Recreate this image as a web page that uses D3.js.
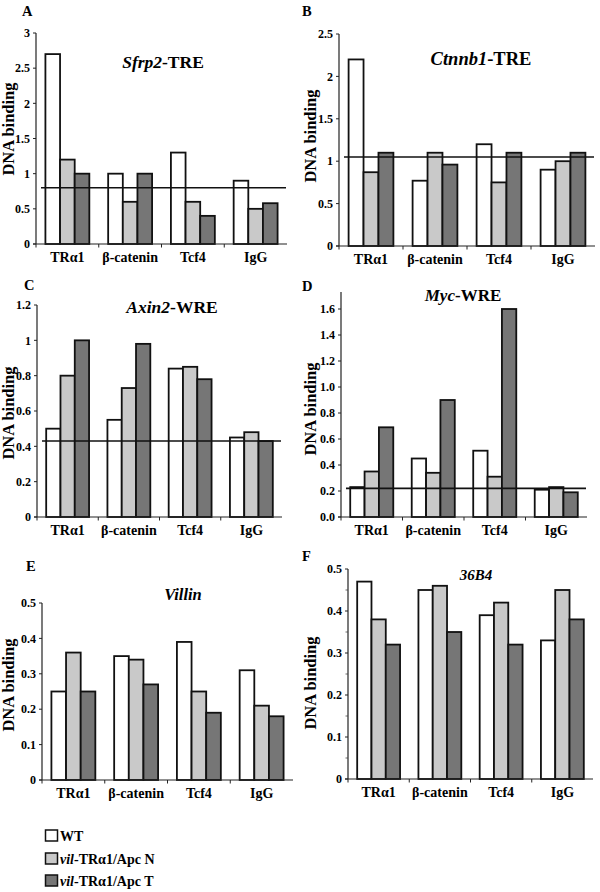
<!DOCTYPE html>
<html>
<head>
<meta charset="utf-8">
<script src="https://cdn.jsdelivr.net/npm/d3@7"></script>
<style>
  body { margin: 0; background: #fff; }
  svg { display: block; font-family: "Liberation Serif", "Times New Roman", serif; font-weight: bold; }
</style>
</head>
<body>
<svg id="chart" width="600" height="892"></svg>
<script>
// ---------- DATA ----------
const categories = ["TRα1", "β-catenin", "Tcf4", "IgG"];
const seriesNames = ["WT", "vil-TRα1/Apc N", "vil-TRα1/Apc T"];
const panelLetters = ["A", "B", "C", "D", "E", "F"];
const titleItalic = ["Sfrp2", "Ctnnb1", "Axin2", "Myc", "Villin", "36B4"];
const titleSuffix = ["-TRE", "-TRE", "-WRE", "-WRE", "", ""];

// rows: WT, vil-TRα1/Apc N, vil-TRα1/Apc T ; columns follow categories
const sfrp2 = [[2.7, 1.0, 1.3, 0.9], [1.2, 0.6, 0.6, 0.5], [1.0, 1.0, 0.4, 0.58]];
const ctnnb1 = [[2.2, 0.77, 1.2, 0.9], [0.87, 1.1, 0.75, 1.0], [1.1, 0.96, 1.1, 1.1]];
const axin2 = [[0.5, 0.55, 0.84, 0.45], [0.8, 0.73, 0.85, 0.48], [1.0, 0.98, 0.78, 0.43]];
const myc = [[0.23, 0.45, 0.51, 0.21], [0.35, 0.34, 0.31, 0.23], [0.69, 0.9, 1.6, 0.19]];
const villin = [[0.25, 0.35, 0.39, 0.31], [0.36, 0.34, 0.25, 0.21], [0.25, 0.27, 0.19, 0.18]];
const b36b4 = [[0.47, 0.45, 0.39, 0.33], [0.38, 0.46, 0.42, 0.45], [0.32, 0.35, 0.32, 0.38]];
const panelData = [sfrp2, ctnnb1, axin2, myc, villin, b36b4];

const refLines = [0.8, 1.05, 0.43, 0.22, null, null];

const ticksA = [0, 0.5, 1, 1.5, 2, 2.5, 3];
const ticksB = [0, 0.5, 1, 1.5, 2, 2.5];
const ticksC = [0, 0.2, 0.4, 0.6, 0.8, 1, 1.2];
const ticksD = [0, 0.2, 0.4, 0.6, 0.8, 1.0, 1.2, 1.4, 1.6];
const ticksE = [0, 0.1, 0.2, 0.3, 0.4, 0.5];
const ticksF = [0, 0.1, 0.2, 0.3, 0.4, 0.5];
const minorF = [0.05, 0.15, 0.25, 0.35, 0.45];
const panelTicks = [ticksA, ticksB, ticksC, ticksD, ticksE, ticksF];
const tickFormats = ["", "", "", ".1f", "", ""];

// ---------- LAYOUT ----------
const layout = [
  { left: 36, right: 287, y0: 244, yTop: 33, axisMax: 3, letter: [22, 16], title: [163, 68, 17.5], ylab: [14, 129] },
  { left: 339, right: 595, y0: 246, yTop: 34, axisMax: 2.5, letter: [302, 16], title: [481, 65, 18.5], ylab: [316, 136] },
  { left: 37, right: 282, y0: 517, yTop: 305, axisMax: 1.2, letter: [24, 290], title: [172, 313, 17.5], ylab: [14, 413] },
  { left: 341, right: 587, y0: 517, yTop: 309, axisMax: 1.73, letter: [302, 291], title: [463, 301, 17], ylab: [316, 409] },
  { left: 42, right: 293, y0: 780, yTop: 603, axisMax: 0.5, letter: [26, 571], title: [183, 600, 16.5], ylab: [14, 685] },
  { left: 348, right: 593, y0: 779, yTop: 569, axisMax: 0.5, letter: [302, 561], title: [476, 580, 15], ylab: [316, 683] }
];
const colors = ["#ffffff", "#c9c9c9", "#767676"];

const svg = d3.select("#chart");

panelData.forEach((data, pi) => {
  const L = layout[pi];
  const ticks = panelTicks[pi];
  const topTick = ticks[ticks.length - 1];
  const y = d3.scaleLinear().domain([0, topTick]).range([L.y0, L.yTop]);
  const x = d3.scaleBand().domain(categories).range([L.left, L.right]).padding(0);
  const groupW = x.bandwidth() * 0.7;
  const xs = d3.scaleBand().domain(d3.range(seriesNames.length)).range([0, groupW]).padding(0);
  const g = svg.append("g");

  // panel letter
  g.append("text").attr("x", L.letter[0]).attr("y", L.letter[1])
    .attr("font-size", 14.5).text(panelLetters[pi]);

  // title
  const t = g.append("text").attr("x", L.title[0]).attr("y", L.title[1])
    .attr("text-anchor", "middle").attr("font-size", L.title[2]);
  t.append("tspan").attr("font-style", "italic").text(titleItalic[pi]);
  if (titleSuffix[pi]) t.append("tspan").text(titleSuffix[pi]);

  // y label
  g.append("text").attr("transform", `translate(${L.ylab[0]},${L.ylab[1]}) rotate(-90)`)
    .attr("text-anchor", "middle").attr("font-size", 16.5).text("DNA binding");

  // bars
  data.forEach((vals, si) => {
    g.selectAll(null).data(vals).enter().append("rect")
      .attr("x", (d, ci) => x(categories[ci]) + (x.bandwidth() - groupW) / 2 + xs(si))
      .attr("width", xs.bandwidth())
      .attr("y", d => y(d))
      .attr("height", d => y(0) - y(d))
      .attr("fill", colors[si])
      .attr("stroke", "#111")
      .attr("stroke-width", 1.8);
  });

  // y axis
  const yAxisScale = d3.scaleLinear().domain([0, L.axisMax]).range([L.y0, L.y0 - (L.y0 - L.yTop) * L.axisMax / topTick]);
  g.append("line").attr("x1", L.left).attr("x2", L.left)
    .attr("y1", yAxisScale(0)).attr("y2", yAxisScale(L.axisMax))
    .attr("stroke", "#222").attr("stroke-width", 1.2);
  const fmt = tickFormats[pi] ? d3.format(tickFormats[pi]) : (d => String(d));
  ticks.forEach(v => {
    g.append("line").attr("x1", L.left - 3).attr("x2", L.left)
      .attr("y1", y(v)).attr("y2", y(v)).attr("stroke", "#222").attr("stroke-width", 1);
    g.append("text").attr("x", L.left - 6).attr("y", y(v)).attr("dy", "0.35em")
      .attr("text-anchor", "end").attr("font-size", 12).text(fmt(v));
  });
  if (pi === 5) {
    minorF.forEach(v => {
      g.append("line").attr("x1", L.left - 2.5).attr("x2", L.left)
        .attr("y1", y(v)).attr("y2", y(v)).attr("stroke", "#444").attr("stroke-width", 0.8);
    });
  }

  // x axis
  g.append("line").attr("x1", L.left - 3).attr("x2", L.right)
    .attr("y1", L.y0).attr("y2", L.y0).attr("stroke", "#222").attr("stroke-width", 1.2);
  categories.forEach((c, ci) => {
    g.append("line").attr("x1", x(c)).attr("x2", x(c))
      .attr("y1", L.y0).attr("y2", L.y0 + 3.5).attr("stroke", "#222").attr("stroke-width", 1);
    g.append("text").attr("x", x(c) + x.bandwidth() / 2).attr("y", L.y0 + 18)
      .attr("text-anchor", "middle").attr("font-size", 14).text(c);
  });

  // reference line
  if (refLines[pi] !== null) {
    g.append("line").attr("x1", L.left + 5).attr("x2", L.right - 1)
      .attr("y1", y(refLines[pi])).attr("y2", y(refLines[pi]))
      .attr("stroke", "#111").attr("stroke-width", 1.6);
  }
});

// legend
const legY = [830, 853, 875];
seriesNames.forEach((s, i) => {
  svg.append("rect").attr("x", 45.5).attr("y", legY[i]).attr("width", 12).attr("height", 11)
    .attr("fill", colors[i]).attr("stroke", "#111").attr("stroke-width", 1.5);
  const t = svg.append("text").attr("x", 60).attr("y", legY[i] + 10.5).attr("font-size", 14);
  if (s.startsWith("vil")) {
    t.append("tspan").attr("font-style", "italic").text("vil");
    t.append("tspan").text(s.slice(3));
  } else {
    t.text(s);
  }
});
</script>
</body>
</html>
